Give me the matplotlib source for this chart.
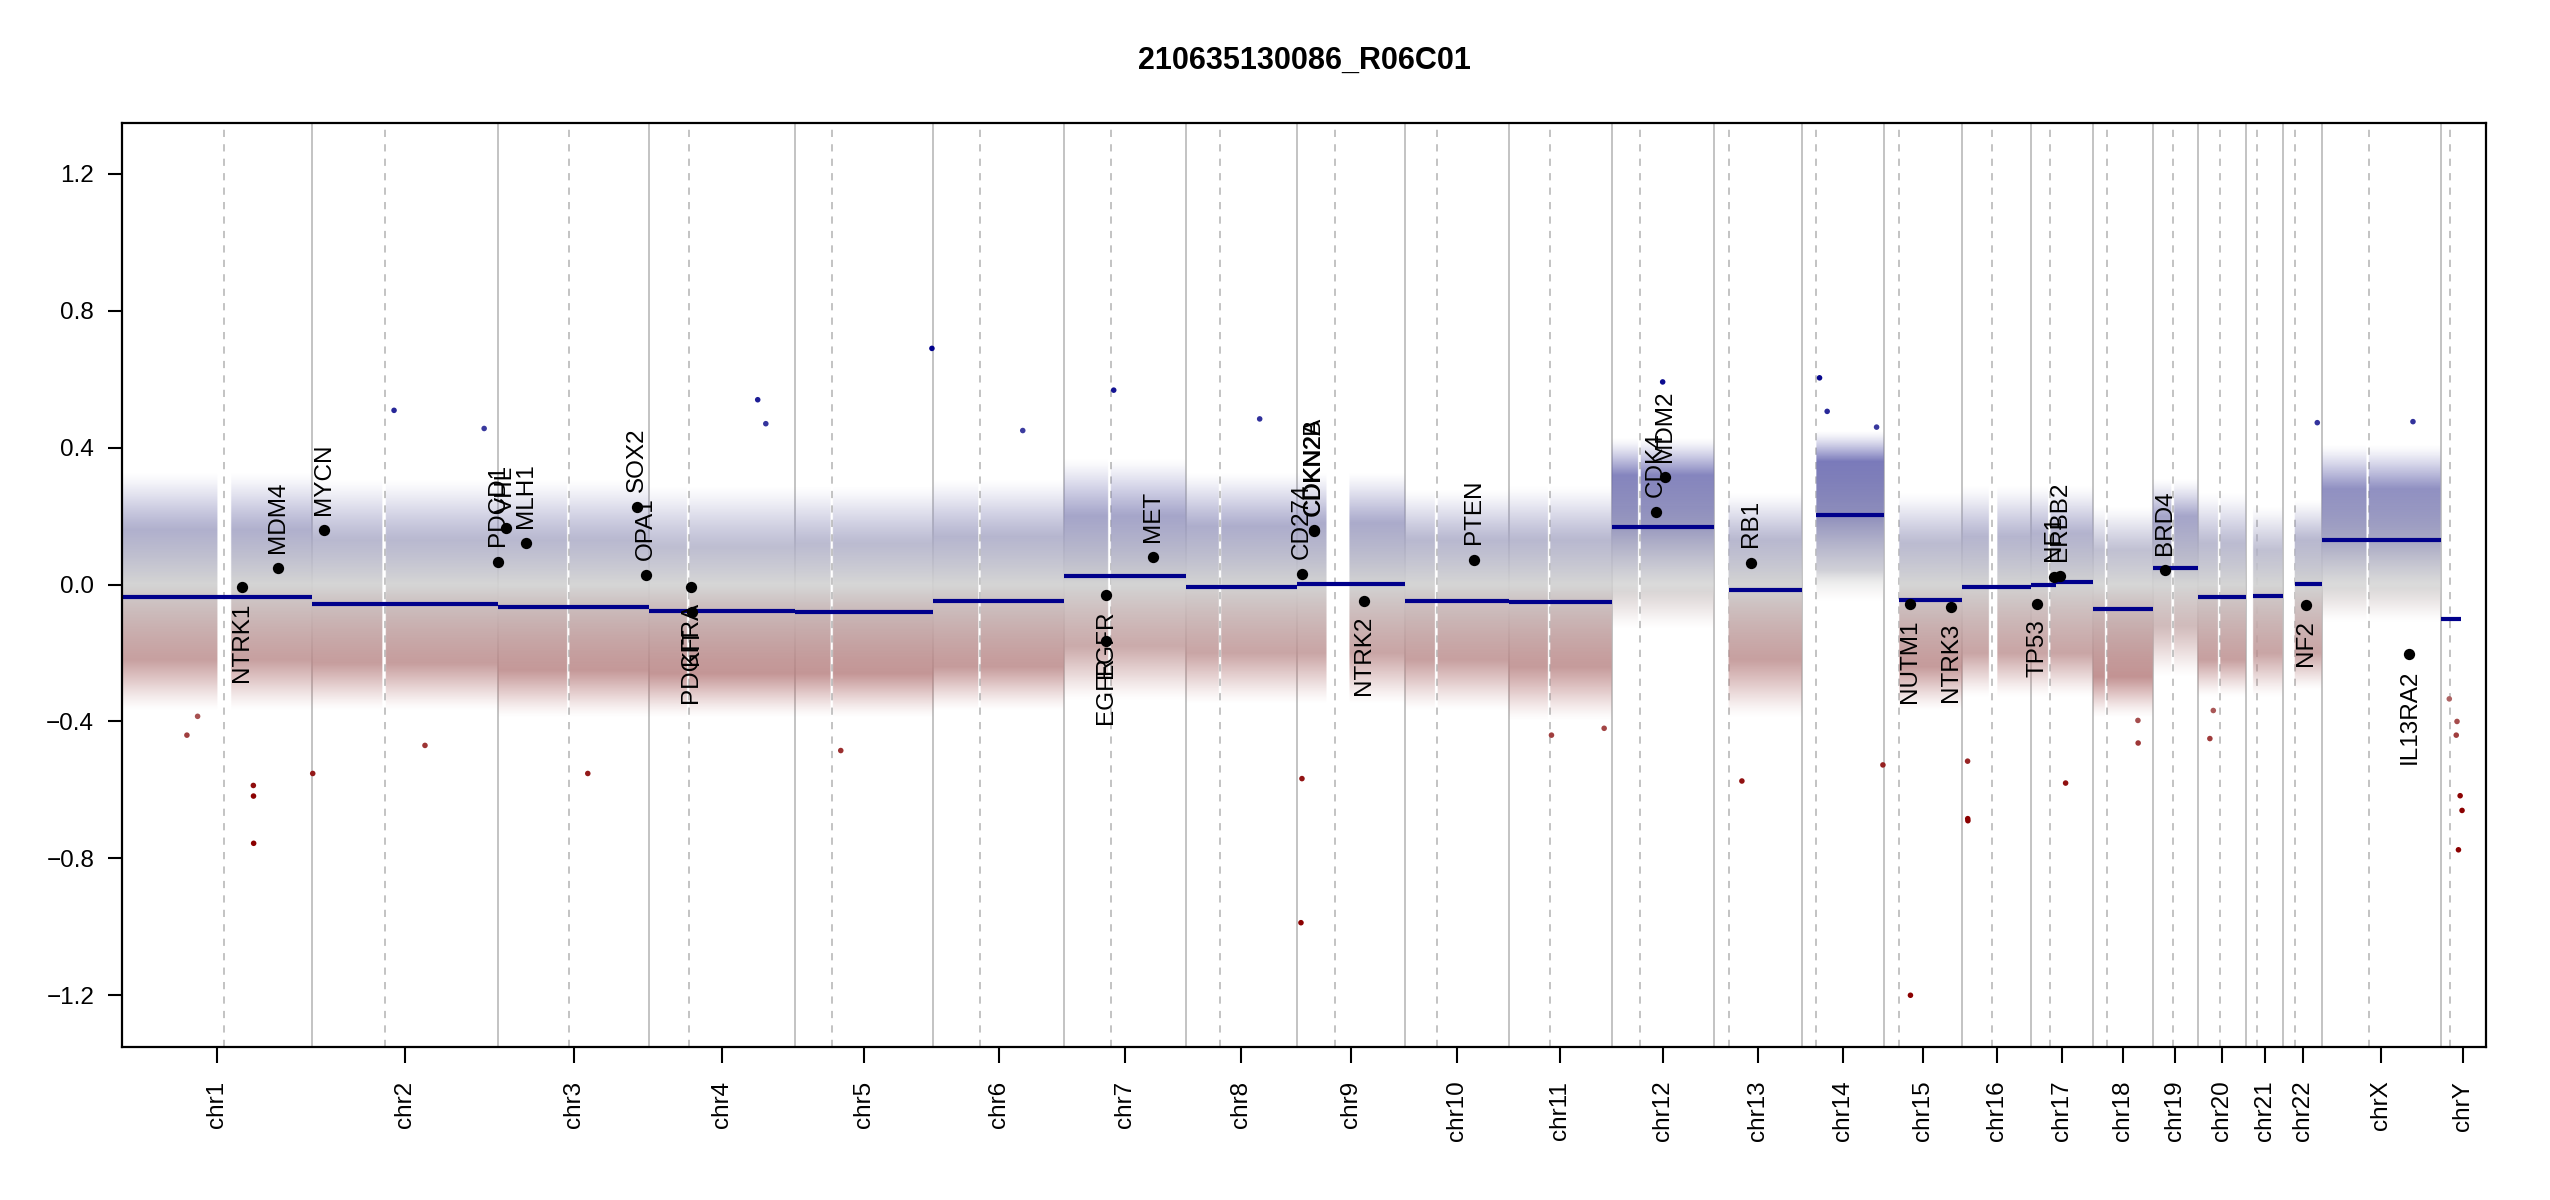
import numpy as np
import matplotlib
matplotlib.use("Agg")
import matplotlib.pyplot as plt

plt.rcParams['font.family'] = ['Liberation Sans', 'DejaVu Sans']

# ---------------- data ----------------
title = "210635130086_R06C01"

chrom_names = [f"chr{i}" for i in range(1, 23)] + ["chrX", "chrY"]
# chromosome lengths (Mb, hg19)
chrom_len = [249.25, 243.20, 198.02, 191.15, 180.92, 171.12, 159.14, 146.36,
             141.21, 135.53, 135.01, 133.85, 115.17, 107.35, 102.53, 90.35,
             81.20, 78.08, 59.13, 63.03, 48.13, 51.30, 155.27, 59.37]
# centromere marks (Mb, dashed lines)
centromere = [134.0, 94.6, 93.0, 52.5, 48.7, 60.6, 60.8, 45.3, 49.4, 41.3,
              53.7, 36.8, 19.0, 18.9, 20.1, 39.0, 25.2, 17.4, 26.6, 29.0,
              14.2, 16.1, 61.7, 11.8]
# regions without probes (Mb)
gap_start = [125.0, 92.0, 90.5, 49.5, 46.4, 58.8, 58.0, 43.8, 38.5, 39.2,
             51.6, 34.8, 0.0, 0.0, 0.0, 35.3, 22.2, 15.4, 24.6, 26.3,
             0.0, 0.0, 58.6, 0.0]
gap_end = [143.0, 96.0, 93.5, 52.7, 49.4, 61.9, 61.5, 46.9, 68.5, 42.4,
           54.7, 37.9, 19.1, 19.1, 20.1, 46.4, 25.3, 18.5, 28.2, 29.5,
           9.4, 16.0, 61.7, 59.37]

# bin cloud envelope per chromosome (log2 ratio): dense band and sparse halo
dense_lo = [-0.22, -0.23, -0.25, -0.26, -0.26, -0.24, -0.18, -0.20, -0.20, -0.22,
            -0.24, -0.02, -0.22, 0.04, -0.24, -0.20, -0.20, -0.27, -0.12, -0.22,
            -0.20, -0.20, -0.01, -0.10]
dense_hi = [0.16, 0.13, 0.13, 0.11, 0.12, 0.14, 0.20, 0.17, 0.18, 0.13,
            0.13, 0.32, 0.13, 0.36, 0.12, 0.14, 0.15, 0.10, 0.20, 0.12,
            0.10, 0.13, 0.28, -0.10]
sparse_lo = [-0.37, -0.37, -0.39, -0.39, -0.39, -0.37, -0.34, -0.35, -0.35, -0.37,
             -0.40, -0.13, -0.39, -0.05, -0.37, -0.33, -0.33, -0.39, -0.27, -0.33,
             -0.33, -0.31, -0.11, -0.10]
sparse_hi = [0.33, 0.31, 0.31, 0.29, 0.29, 0.31, 0.37, 0.33, 0.33, 0.28,
             0.29, 0.43, 0.27, 0.45, 0.27, 0.29, 0.29, 0.23, 0.31, 0.27,
             0.23, 0.25, 0.41, -0.10]

# segments: chromosome, start (Mb), end (Mb), mean value
seg_chr = ["chr1", "chr2", "chr3", "chr4", "chr5", "chr6", "chr7", "chr8", "chr9",
           "chr10", "chr11", "chr12", "chr13", "chr14", "chr15", "chr16", "chr17",
           "chr17", "chr18", "chr19", "chr20", "chr21", "chr22", "chrX", "chrY"]
seg_start = [0.0, 0.0, 0.0, 0.0, 0.0, 0.0, 0.0, 0.0, 0.0, 0.0, 0.0, 0.0, 19.0,
             19.0, 20.0, 0.0, 0.0, 32.3, 0.0, 0.0, 0.0, 9.0, 16.0, 0.0, 1.0]
seg_end = [249.25, 243.20, 198.02, 191.15, 180.92, 171.12, 159.14, 146.36, 141.21,
           135.53, 135.01, 133.85, 115.17, 107.35, 102.53, 90.35, 32.3, 81.20,
           78.08, 59.13, 63.03, 48.13, 51.30, 155.27, 27.0]
seg_val = [-0.037, -0.057, -0.067, -0.076, -0.079, -0.049, 0.025, -0.007, 0.002,
           -0.049, -0.051, 0.169, -0.017, 0.203, -0.045, -0.006, -0.002, 0.007,
           -0.072, 0.047, -0.035, -0.032, 0.001, 0.129, -0.100]

# isolated bins far from the cloud
out_chr = ["chr1", "chr1", "chr1", "chr1", "chr1", "chr2", "chr2", "chr2", "chr2",
           "chr3", "chr4", "chr4", "chr5", "chr5", "chr6", "chr7", "chr8", "chr9",
           "chr9", "chr11", "chr11", "chr12", "chr13", "chr14", "chr14", "chr14",
           "chr14", "chr15", "chr16", "chr16", "chr16", "chr17", "chr18", "chr18",
           "chr20", "chr20", "chr22", "chrX", "chrY", "chrY", "chrY", "chrY",
           "chrY", "chrY"]
out_pos = [172.0, 172.2, 172.4, 85.0, 99.0, 0.5, 107.0, 147.5, 225.0,
           117.5, 142.0, 152.6, 179.0, 59.6, 117.0, 65.0, 97.0, 4.7,
           6.0, 56.0, 125.0, 66.6, 36.5, 23.0, 33.0, 97.7,
           106.0, 34.7, 7.0, 7.2, 7.4, 45.0, 58.5, 58.8,
           15.5, 20.0, 45.0, 119.0, 11.3, 20.4, 21.4, 23.3,
           25.5, 28.0]
out_val = [-0.587, -0.618, -0.756, -0.44, -0.385, -0.552, 0.509, -0.47, 0.456,
           -0.552, 0.54, 0.47, 0.69, -0.485, 0.45, 0.568, 0.484, -0.988,
           -0.567, -0.44, -0.42, 0.592, -0.574, 0.604, 0.506, 0.46,
           -0.527, -1.2, -0.516, -0.684, -0.69, -0.58, -0.397, -0.463,
           -0.45, -0.368, 0.473, 0.476, -0.334, -0.44, -0.40, -0.775,
           -0.617, -0.66]

# highlighted genes
gene_name = ["NTRK1", "MDM4", "MYCN", "PDCD1", "VHL", "MLH1", "SOX2", "OPA1",
             "PDGFRA", "KIT", "EGFR", "EGFR", "MET", "CD274", "CDKN2A", "CDKN2B",
             "NTRK2", "PTEN", "CDK4", "MDM2", "RB1", "NUTM1", "NTRK3", "TP53",
             "NF1", "ERBB2", "BRD4", "NF2", "IL13RA2"]
gene_chr = ["chr1", "chr1", "chr2", "chr2", "chr3", "chr3", "chr3", "chr3",
            "chr4", "chr4", "chr7", "chr7", "chr7", "chr9", "chr9", "chr9",
            "chr9", "chr10", "chr12", "chr12", "chr13", "chr15", "chr15", "chr17",
            "chr17", "chr17", "chr19", "chr22", "chrX"]
gene_pos = [156.8, 204.5, 15.9, 242.8, 10.2, 37.0, 181.4, 193.3,
            55.1, 55.5, 55.1, 55.2, 116.3, 5.45, 21.97, 22.0,
            87.3, 89.6, 57.7, 69.2, 48.9, 34.6, 88.4, 7.57,
            29.4, 37.8, 15.3, 30.0, 114.2]
gene_val = [-0.007, 0.047, 0.159, 0.067, 0.165, 0.120, 0.226, 0.027,
            -0.007, -0.080, -0.031, -0.166, 0.081, 0.030, 0.160, 0.155,
            -0.047, 0.073, 0.212, 0.313, 0.064, -0.057, -0.067, -0.057,
            0.023, 0.025, 0.042, -0.060, -0.204]

yticks = [-1.2, -0.8, -0.4, 0.0, 0.4, 0.8, 1.2]
ylim = (-1.35, 1.35)

# ---------------- helpers ----------------
chrom_len_a = np.array(chrom_len)
offsets = np.concatenate([[0.0], np.cumsum(chrom_len_a)[:-1]])
total = float(chrom_len_a.sum())
cidx = {n: i for i, n in enumerate(chrom_names)}

grey = np.array([211, 211, 211]) / 255.0
dred = np.array([139, 0, 0]) / 255.0
dblue = np.array([0, 0, 139]) / 255.0


def ramp(v):
    v = np.asarray(v, dtype=float)
    f = np.clip(v / 0.625, -1, 1)[..., None]
    neg = grey + (-np.minimum(f, 0)) * (dred - grey)
    pos = grey + np.maximum(f, 0) * (dblue - grey)
    return np.where(f < 0, neg, pos)


def gx(ch, p):
    return offsets[cidx[ch]] + p

# ---------------- figure ----------------
fig = plt.figure(figsize=(25.5, 12), dpi=100)
ax = fig.add_axes([122 / 2550, 1 - 1046.6 / 1200, (2486 - 122) / 2550,
                   (1046.6 - 122.5) / 1200])
ax.set_xlim(0, total)
ax.set_ylim(*ylim)

# chromosome boundaries and centromeres
for i in range(1, len(chrom_len)):
    ax.axvline(offsets[i], color="#bebebe", lw=1.3, zorder=1)
for i in range(len(chrom_len)):
    ax.axvline(offsets[i] + centromere[i], color="#bebebe", lw=1.3,
               dashes=(4, 4), zorder=1)

# bin cloud drawn as an envelope image
step = 0.5
xs = np.arange(0, total, step) + step / 2
ys = np.linspace(ylim[0], ylim[1], 541)
ci = np.searchsorted(offsets, xs, side="right") - 1
pos = xs - offsets[ci]
center = np.full(xs.shape, np.nan)
for ch, s, e, v in zip(seg_chr, seg_start, seg_end, seg_val):
    k = cidx[ch]
    m = (ci == k) & (pos >= s) & (pos <= e)
    center[m] = v
has = ~np.isnan(center)
gs = np.array(gap_start)[ci]
ge = np.array(gap_end)[ci]
has &= ~((pos >= gs) & (pos <= ge))
dl = np.array(dense_lo)[ci]
dh = np.array(dense_hi)[ci]
sl = np.array(sparse_lo)[ci]
sh = np.array(sparse_hi)[ci]

Y = ys[:, None]
C = center[None, :]
a0, a1 = 1.0, 0.8
alpha = np.zeros((len(ys), len(xs)), dtype=np.float32)
with np.errstate(invalid="ignore", divide="ignore"):
    up_d = (Y >= C) & (Y <= dh[None, :])
    t = (Y - C) / (dh[None, :] - C)
    alpha = np.where(up_d, a0 - (a0 - a1) * t, alpha)
    up_s = (Y > dh[None, :]) & (Y <= sh[None, :])
    t = (Y - dh[None, :]) / (sh[None, :] - dh[None, :])
    alpha = np.where(up_s, a1 * (1 - t) ** 1.4, alpha)
    lo_d = (Y < C) & (Y >= dl[None, :])
    t = (C - Y) / (C - dl[None, :])
    alpha = np.where(lo_d, a0 - (a0 - a1) * t, alpha)
    lo_s = (Y < dl[None, :]) & (Y >= sl[None, :])
    t = (dl[None, :] - Y) / (dl[None, :] - sl[None, :])
    alpha = np.where(lo_s, a1 * (1 - t) ** 1.4, alpha)
alpha = np.where(has[None, :], alpha, 0).astype(np.float32)
alpha = np.nan_to_num(alpha)
img = np.zeros((len(ys), len(xs), 4), dtype=np.float32)
img[..., :3] = ramp(ys)[:, None, :]
img[..., 3] = alpha
ax.imshow(img, extent=[0, total, ylim[0], ylim[1]], origin="lower",
          aspect="auto", interpolation="bilinear", zorder=2)

# isolated bins
ox = [gx(c, p) for c, p in zip(out_chr, out_pos)]
ax.scatter(ox, out_val, s=16, c=ramp(out_val), linewidths=0, zorder=3)

# segments
for ch, s, e, v in zip(seg_chr, seg_start, seg_end, seg_val):
    ax.plot([gx(ch, s), gx(ch, e)], [v, v], color="#00008b", lw=3.0,
            solid_capstyle="butt", zorder=4)

# genes
gxs = [gx(c, p) for c, p in zip(gene_chr, gene_pos)]
ax.scatter(gxs, gene_val, s=66, color="black", linewidths=0, zorder=5)
for name, x, v in zip(gene_name, gxs, gene_val):
    if v >= 0:
        ax.annotate(name, (x, v), xytext=(0, 11), textcoords="offset points",
                    rotation=90, ha="center", va="bottom", fontsize=17.5, zorder=6)
    else:
        ax.annotate(name, (x, v), xytext=(0, -11), textcoords="offset points",
                    rotation=90, ha="center", va="top", fontsize=17.5, zorder=6)

# axes styling
ax.set_yticks(yticks)
ax.set_yticklabels([f"{t:.1f}".replace("-", "\u2212") for t in yticks])
ax.set_xticks(offsets + chrom_len_a / 2)
ax.set_xticklabels(chrom_names, rotation=90)
ax.tick_params(axis="x", length=11.5, width=1.5, pad=13, labelsize=17.5)
ax.tick_params(axis="y", length=10, width=1.5, pad=10, labelsize=17.5)
for sp in ax.spines.values():
    sp.set_linewidth(1.6)
    sp.set_zorder(7)

fig.text(1304 / 2550, 1 - 61 / 1200, title, ha="center", va="center",
         fontsize=22, fontweight="bold")

fig.savefig("out.png", dpi=100)
